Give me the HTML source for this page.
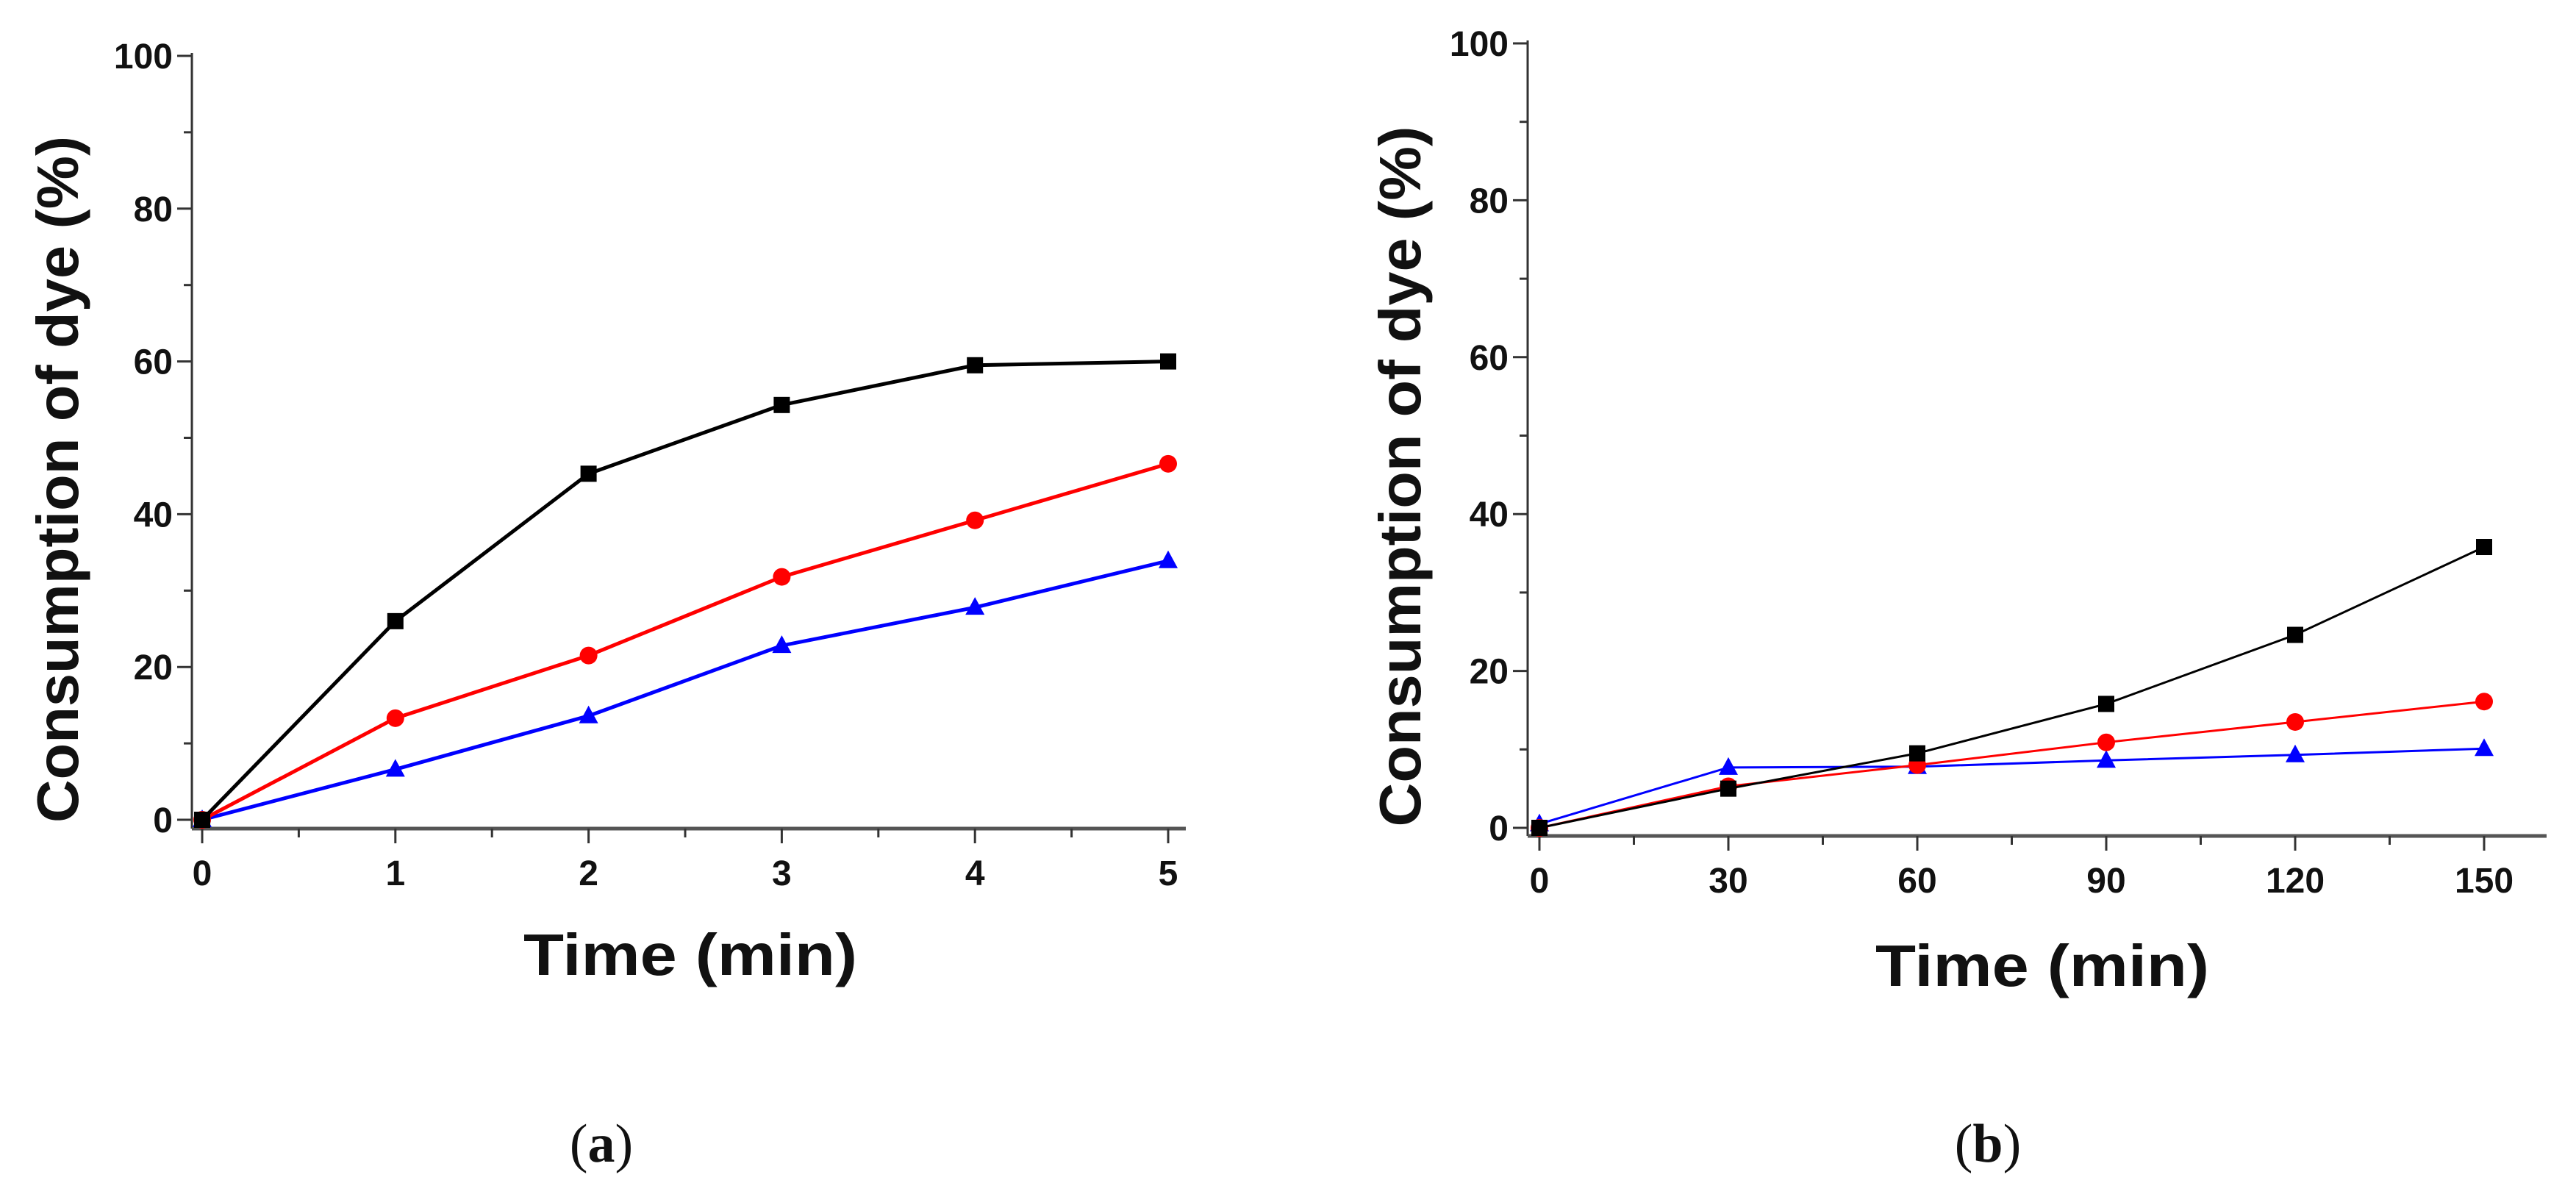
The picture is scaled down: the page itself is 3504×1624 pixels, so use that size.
<!DOCTYPE html>
<html><head><meta charset="utf-8"><style>
html,body{margin:0;padding:0;background:#fff}
svg{display:block}
text{font-family:"Liberation Sans",Arial,sans-serif;font-weight:bold;fill:#111}
</style></head><body>
<svg id="fig" width="3504" height="1624" viewBox="0 0 3504 1624"></svg>
<script>
// Panel (a) data
const catsA = [0, 1, 2, 3, 4, 5];
const blackA = [0, 26, 45.3, 54.3, 59.5, 60];
const redA = [0, 13.3, 21.5, 31.8, 39.2, 46.6];
const blueA = [0, 6.6, 13.6, 22.8, 27.8, 33.9];
const xTicksA = ["0", "1", "2", "3", "4", "5"];
// Panel (b) data
const catsB = [0, 30, 60, 90, 120, 150];
const blackB = [0, 5, 9.5, 15.8, 24.6, 35.8];
const redB = [0, 5.3, 8, 10.9, 13.5, 16.1];
const blueB = [0.5, 7.7, 7.8, 8.6, 9.3, 10.1];
const xTicksB = ["0", "30", "60", "90", "120", "150"];
const yTicks = [0, 20, 40, 60, 80, 100];

const NS = "http://www.w3.org/2000/svg";
const svg = document.getElementById("fig");
function mk(tag, attrs, parent) {
  const e = document.createElementNS(NS, tag);
  for (const k in attrs) e.setAttribute(k, attrs[k]);
  (parent || svg).appendChild(e);
  return e;
}

function panel(cfg) {
  const g = mk("g", {});
  
  
  const xs = v => cfg.x0 + (v - cfg.xmin) / (cfg.xmax - cfg.xmin) * (cfg.x1 - cfg.x0);
  const ys = v => cfg.y0 + (v / 100) * (cfg.y100 - cfg.y0);
  const ya = mk("line", {x1: cfg.ax, y1: cfg.y100 - 4, x2: cfg.ax, y2: cfg.axY, stroke: "#333", "stroke-width": 3}, g);
  
  
  const xa = mk("line", {x1: cfg.ax, y1: cfg.axY, x2: cfg.xend, y2: cfg.axY, stroke: "#555", "stroke-width": 5}, g);
  
  
  for (let v = 0; v <= 100; v += 10) {
    const major = v % 20 === 0;
    mk("line", {x1: cfg.ax - (major ? 20 : 11), y1: ys(v), x2: cfg.ax, y2: ys(v), stroke: "#333", "stroke-width": 3}, g);
  }
  yTicks.forEach(v => {
    const t = mk("text", {x: cfg.ax - 26, y: ys(v) + 17, "text-anchor": "end", "font-size": 48}, g);
    t.textContent = v;
    
    
  });
  const step = cfg.cats[1] - cfg.cats[0];
  for (let i = 0; i < cfg.cats.length * 2; i++) {
    const v = cfg.cats[0] + i * step / 2;
    if (xs(v) > cfg.xend) break;
    const major = i % 2 === 0;
    mk("line", {x1: xs(v), y1: cfg.axY, x2: xs(v), y2: cfg.axY + (major ? 20 : 12), stroke: "#333", "stroke-width": 3}, g);
  }
  cfg.cats.forEach((v, i) => {
    const t = mk("text", {x: xs(v), y: cfg.tickY, "text-anchor": "middle", "font-size": 48}, g);
    t.textContent = cfg.xlabels[i];
    
    
  });
  const xt = mk("text", {x: cfg.xtX, y: cfg.xtY, "text-anchor": "middle", "font-size": 80, textLength: 454, lengthAdjust: "spacingAndGlyphs"}, g);
  xt.textContent = "Time (min)";
  
  
  const yt = mk("text", {x: 0, y: 0, "text-anchor": "middle", "font-size": 80, textLength: cfg.ytLen, lengthAdjust: "spacingAndGlyphs", transform: `translate(${cfg.ytX},${cfg.ytY}) rotate(-90)`}, g);
  yt.textContent = "Consumption of dye (%)";
  
  
  const series = [
    {vals: cfg.blue, color: "#0000ff", m: "tri", name: "series-blue"},
    {vals: cfg.red, color: "#ff0000", m: "circle", name: "series-red"},
    {vals: cfg.black, color: "#000000", m: "square", name: "series-black"}
  ];
  series.forEach(s => {
    const sg = mk("g", {}, g);
    
    
    const pts = s.vals.map((v, i) => xs(cfg.cats[i]) + "," + ys(v)).join(" ");
    const pl = mk("polyline", {points: pts, fill: "none", stroke: s.color, "stroke-width": cfg.lw}, sg);
    
    
    s.vals.forEach((v, i) => {
      const cx = xs(cfg.cats[i]), cy = ys(v);
      let e;
      if (s.m === "square") e = mk("rect", {x: cx - 11, y: cy - 11, width: 22, height: 22, fill: s.color}, sg);
      else if (s.m === "circle") e = mk("circle", {cx: cx, cy: cy, r: 12, fill: s.color}, sg);
      else e = mk("polygon", {points: `${cx},${cy - 14} ${cx - 13},${cy + 10} ${cx + 13},${cy + 10}`, fill: s.color}, sg);
      
      
    });
  });
}

panel({name: "chart-a", cats: catsA, xlabels: xTicksA, black: blackA, red: redA, blue: blueA,
  xmin: 0, xmax: 5, x0: 275, x1: 1589, y0: 1115, y100: 76, ax: 261, axY: 1127, xend: 1613,
  tickY: 1204, xtX: 939, xtY: 1326, ytX: 106, ytY: 652, ytLen: 934, lw: 5});
panel({name: "chart-b", cats: catsB, xlabels: xTicksB, black: blackB, red: redB, blue: blueB,
  xmin: 0, xmax: 150, x0: 2094, x1: 3379, y0: 1126, y100: 59, ax: 2078, axY: 1137, xend: 3464,
  tickY: 1214, xtX: 2778, xtY: 1341, ytX: 1932, ytY: 648, ytLen: 953, lw: 3});

const ca = mk("text", {x: 818, y: 1580, "text-anchor": "middle", "font-size": 74, style: "font-family:'Liberation Serif',serif;font-weight:normal"});
ca.innerHTML = '(<tspan font-weight="bold">a</tspan>)';


const cb = mk("text", {x: 2704, y: 1580, "text-anchor": "middle", "font-size": 74, style: "font-family:'Liberation Serif',serif;font-weight:normal"});
cb.innerHTML = '(<tspan font-weight="bold">b</tspan>)';


</script>
</body></html>
